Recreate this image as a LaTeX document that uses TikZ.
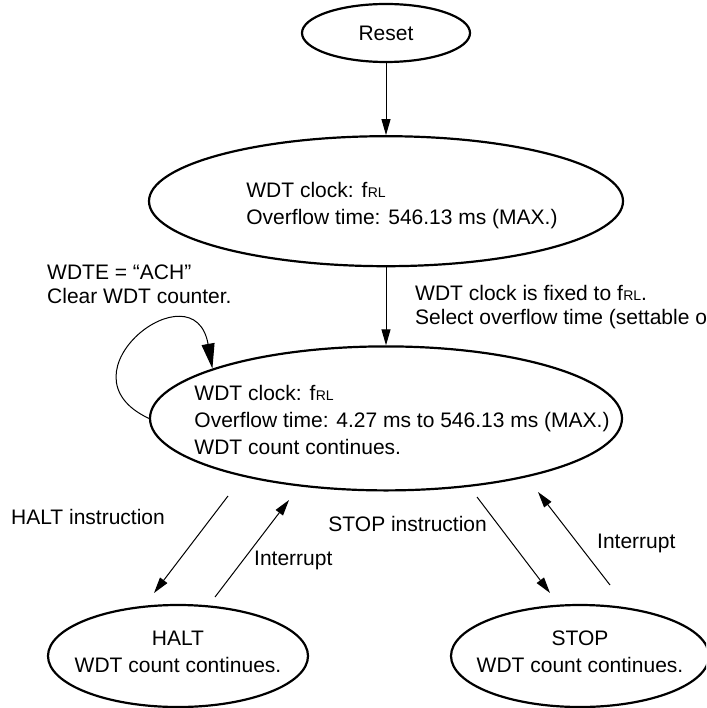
\documentclass[tikz,border=0pt]{standalone}
\usepackage{fontspec}
\setmainfont{Liberation Sans}
\usetikzlibrary{shapes,arrows.meta,positioning}
\newcommand\fRL{f\kern.4pt{\fontsize{14pt}{14pt}\selectfont RL}}

\begin{document}
\begin{tikzpicture}[
    x=1pt, y=-1pt,
    font=\fontsize{21pt}{27pt}\selectfont,
    state/.style={ellipse, draw, line width=2.2pt, inner sep=0pt},
    txt/.style={align=left, inner sep=0pt},
    lbl/.style={align=left, inner sep=0pt, font=\fontsize{21pt}{24pt}\selectfont},
    conn/.style={-{Triangle[length=16pt,width=9pt]}, line width=1pt}
]
\path[use as bounding box] (0,0) rectangle (706,708);
\clip (0,0) rectangle (706,708);

% states
\node[state, minimum width=168pt, minimum height=58pt] (reset) at (386,33) {Reset};
\node[state, minimum width=474pt, minimum height=130pt] (wdt1) [below=72pt of reset] {};
\node[state, minimum width=472pt, minimum height=144pt] (wdt2) [below=78pt of wdt1] {};
\node[state, minimum width=260pt, minimum height=102pt] (halt) at (178,656) {};
\node[state, minimum width=258pt, minimum height=102pt] (stop) at (580,656) {};

% texts in the states
\node[txt] (wdt1txt) at ([xshift=16pt,yshift=-4pt]wdt1.center) {WDT clock: \fRL\\Overflow time: 546.13 ms (MAX.)};
\node[txt] (wdt2txt) at ([xshift=16pt,yshift=-2pt]wdt2.center) {WDT clock: \fRL\\Overflow time: 4.27 ms to 546.13 ms (MAX.)\\WDT count continues.};
\node[txt, align=center] (halttxt) at ([yshift=4pt]halt.center) {HALT\\WDT count continues.};
\node[txt, align=center] (stoptxt) at ([yshift=4pt]stop.center) {STOP\\WDT count continues.};

% labels
\node[lbl, anchor=west] (ach) at (47,284) {WDTE = “ACH”\\Clear WDT counter.};
\node[lbl, anchor=west] (fixed) at (415,307) {WDT clock is fixed to \fRL.\\Select overflow time (settable only once).};
\node[lbl, anchor=west] (haltins) at (11,517) {HALT instruction};
\node[lbl, anchor=west] (int1) at (254,560) {Interrupt};
\node[lbl, anchor=east] (stopins) at (487,524) {STOP instruction};
\node[lbl, anchor=west] (int2) at (597,543) {Interrupt};

% free arrow ends
\coordinate (haltA) at (228,496);
\coordinate (haltB) at (154,593);
\coordinate (int1A) at (215,597);
\coordinate (int1B) at (289,500);
\coordinate (stopA) at (477,497);
\coordinate (stopB) at (550,593);
\coordinate (int2A) at (610,585);
\coordinate (int2B) at (538,492);

\draw[conn] (reset) -- (wdt1);
\draw[conn] (wdt1) -- (wdt2);
\draw[conn, -{Triangle[length=25pt,width=13pt]}] (wdt2.180) .. controls +(155:105pt) and +(100:105pt) .. (wdt2.164);

\draw[conn] (haltA) -- (haltB);
\draw[conn] (int1A) -- (int1B);
\draw[conn] (stopA) -- (stopB);
\draw[conn] (int2A) -- (int2B);
\end{tikzpicture}
\end{document}
